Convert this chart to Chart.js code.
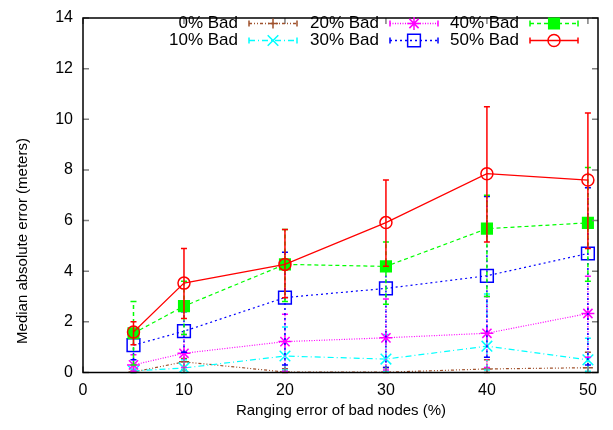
<!DOCTYPE html>
<html>
<head>
<meta charset="utf-8">
<script src="https://cdn.jsdelivr.net/npm/chart.js@4"></script>
<style>
    html, body { margin: 0; padding: 0; background: #fff; }
    #wrap { width: 613px; height: 430px; position: relative; }
</style>
</head>
<body>
<div id="wrap"><canvas id="errChart"></canvas></div>
<script>
// Ranging error of the bad nodes (%)
const xValues = [5, 10, 20, 30, 40, 50];
const xTicks = [0, 10, 20, 30, 40, 50];
const yTicks = [0, 2, 4, 6, 8, 10, 12, 14];
const seriesNames = ['0% Bad', '10% Bad', '20% Bad', '30% Bad', '40% Bad', '50% Bad'];

// Median absolute error (meters) for each share of bad nodes
const bad0 = [0.02, 0.42, 0.02, 0.01, 0.14, 0.19];
const bad10 = [0.06, 0.18, 0.65, 0.53, 1.04, 0.5];
const bad20 = [0.3, 0.76, 1.22, 1.37, 1.55, 2.33];
const bad30 = [1.08, 1.63, 2.96, 3.32, 3.82, 4.7];
const bad40 = [1.55, 2.62, 4.27, 4.19, 5.68, 5.91];
const bad50 = [1.6, 3.53, 4.27, 5.92, 7.85, 7.6];

// Error bar ends (low / high)
const bad0Low = [0, 0.1, 0, 0, 0, 0];
const bad0High = [0.1, 0.55, 0.15, 0.2, 0.5, 0.8];
const bad10Low = [0, 0, 0.1, 0.05, 0.1, 0.05];
const bad10High = [0.3, 0.5, 1.8, 1.5, 3.1, 1.35];
const bad20Low = [0.05, 0.2, 0.05, 0.1, 0.2, 0.6];
const bad20High = [0.7, 1.5, 2.3, 2.9, 3.0, 3.8];
const bad30Low = [0.5, 0.8, 0.3, 0.2, 0.6, 0.3];
const bad30High = [1.5, 2.4, 4.75, 4.1, 6.95, 7.3];
const bad40Low = [0.3, 1.5, 2.8, 2.7, 3.0, 3.6];
const bad40High = [2.8, 3.6, 5.65, 5.15, 7.0, 8.1];
const bad50Low = [1.1, 2.13, 2.95, 4.2, 5.15, 4.9];
const bad50High = [2.0, 4.9, 5.65, 7.6, 10.5, 10.25];

const medians = [bad0, bad10, bad20, bad30, bad40, bad50];
const lows = [bad0Low, bad10Low, bad20Low, bad30Low, bad40Low, bad50Low];
const highs = [bad0High, bad10High, bad20High, bad30High, bad40High, bad50High];

// gnuplot-like line styles
const colors = ['#a0522d', '#00ffff', '#ff00ff', '#0000ff', '#00ff00', '#ff0000'];
const dashes = [[3, 2, 1, 2, 1, 2], [6, 3, 1, 3], [1, 1.5], [2, 3], [4, 3], []];
const markers = ['cross', 'crossRot', 'star', 'rect', 'rect', 'circle'];
const radii = [5, 7.5, 6.5, 9, 7.5, 6];
const fills = ['#a0522d', '#00ffff', '#ff00ff', 'rgba(0,0,0,0)', '#00ff00', 'rgba(0,0,0,0)'];

const FONT = '"Liberation Sans", Arial, sans-serif';

const datasets = seriesNames.map((name, i) => ({
    label: name,
    data: xValues.map((x, j) => ({ x: x, y: medians[i][j] })),
    low: lows[i],
    high: highs[i],
    borderColor: colors[i],
    backgroundColor: fills[i],
    borderWidth: 1.2,
    borderDash: dashes[i],
    pointStyle: markers[i],
    pointRadius: radii[i],
    pointHoverRadius: radii[i],
    pointBorderColor: colors[i],
    pointBackgroundColor: fills[i],
    pointBorderWidth: 1.5,
    tension: 0,
    fill: false,
    order: 5 - i
}));

// Vertical error bars with small caps, under each series' markers
const errorBars = {
    id: 'errorBars',
    beforeDatasetDraw(chart, args) {
        const ds = chart.data.datasets[args.index];
        const { ctx } = chart;
        const x = chart.scales.x, y = chart.scales.y;
        ctx.save();
        ctx.strokeStyle = ds.borderColor;
        ctx.lineWidth = 1.5;
        ds.data.forEach((p, j) => {
            const px = x.getPixelForValue(p.x);
            const yl = y.getPixelForValue(ds.low[j]);
            const yh = y.getPixelForValue(ds.high[j]);
            ctx.setLineDash(ds.borderDash);
            ctx.beginPath();
            ctx.moveTo(px, yl);
            ctx.lineTo(px, yh);
            ctx.stroke();
            ctx.setLineDash([]);
            ctx.beginPath();
            ctx.moveTo(px - 3, yl); ctx.lineTo(px + 3, yl);
            ctx.moveTo(px - 3, yh); ctx.lineTo(px + 3, yh);
            ctx.stroke();
        });
        ctx.restore();
    }
};

// Box frame with inward ticks on all four sides
const frame = {
    id: 'frame',
    afterDatasetsDraw(chart) {
        const { ctx, chartArea: a } = chart;
        const x = chart.scales.x, y = chart.scales.y;
        ctx.save();
        ctx.strokeStyle = '#808080';
        ctx.lineWidth = 1.5;
        ctx.beginPath();
        xTicks.forEach(v => {
            const px = x.getPixelForValue(v);
            ctx.moveTo(px, a.bottom); ctx.lineTo(px, a.bottom - 6);
            ctx.moveTo(px, a.top); ctx.lineTo(px, a.top + 6);
        });
        yTicks.forEach(v => {
            const py = y.getPixelForValue(v);
            ctx.moveTo(a.left, py); ctx.lineTo(a.left + 6, py);
            ctx.moveTo(a.right, py); ctx.lineTo(a.right - 6, py);
        });
        ctx.stroke();
        ctx.strokeStyle = '#000';
        ctx.lineWidth = 1.5;
        ctx.strokeRect(a.left, a.top, a.right - a.left, a.bottom - a.top);
        ctx.restore();
    },
    afterDraw(chart) {
        const { ctx } = chart;
        ctx.save();
        ctx.fillStyle = '#000';
        ctx.font = '15px ' + FONT;
        ctx.textAlign = 'center';
        ctx.textBaseline = 'middle';
        ctx.fillText('Ranging error of bad nodes (%)', 341, 411);
        ctx.translate(23, 241);
        ctx.rotate(-Math.PI / 2);
        ctx.fillText('Median absolute error (meters)', 0, 0);
        ctx.restore();
    }
};

// Two-row key in the top of the plot, gnuplot style
const keyBox = {
    id: 'keyBox',
    afterDraw(chart) {
        const { ctx } = chart;
        const textRight = [238, 379, 519];
        const rowY = [23.5, 40.5];
        ctx.save();
        chart.data.datasets.forEach((ds, i) => {
            const col = Math.floor(i / 2), row = i % 2;
            const y = rowY[row];
            const x1 = textRight[col] + 11, x2 = x1 + 48;
            ctx.fillStyle = '#000';
            ctx.font = '17px ' + FONT;
            ctx.textAlign = 'right';
            ctx.textBaseline = 'middle';
            ctx.fillText(ds.label, textRight[col], y);

            ctx.strokeStyle = ds.borderColor;
            ctx.lineWidth = 1.5;
            ctx.setLineDash(ds.borderDash);
            ctx.beginPath();
            ctx.moveTo(x1, y); ctx.lineTo(x2, y);
            ctx.stroke();
            ctx.setLineDash([]);
            ctx.beginPath();
            ctx.moveTo(x1, y - 3); ctx.lineTo(x1, y + 3);
            ctx.moveTo(x2, y - 3); ctx.lineTo(x2, y + 3);
            ctx.stroke();

            ctx.fillStyle = ds.pointBackgroundColor;
            ctx.strokeStyle = ds.pointBorderColor;
            ctx.lineWidth = ds.pointBorderWidth;
            Chart.helpers.drawPoint(ctx, {
                pointStyle: ds.pointStyle,
                radius: ds.pointRadius,
                borderWidth: ds.pointBorderWidth,
                rotation: 0
            }, (x1 + x2) / 2, y);
        });
        ctx.restore();
    }
};

new Chart(document.getElementById('errChart').getContext('2d'), {
    type: 'line',
    data: { datasets: datasets },
    options: {
        responsive: true,
        maintainAspectRatio: false,
        animation: false,
        events: [],
        layout: { padding: { top: 9.5, right: 15, left: 0, bottom: 0 } },
        plugins: { legend: { display: false }, tooltip: { enabled: false } },
        scales: {
            x: {
                type: 'linear',
                min: 0,
                max: 51,
                afterBuildTicks: s => { s.ticks = xTicks.map(v => ({ value: v })); },
                afterFit: s => { s.height = 57.5; },
                grid: { display: false, drawTicks: false },
                border: { display: false },
                ticks: { padding: 8, color: '#000', font: { family: FONT, size: 16 }, maxRotation: 0 }
            },
            y: {
                min: 0,
                max: 14,
                afterBuildTicks: s => { s.ticks = yTicks.map(v => ({ value: v })); },
                afterFit: s => { s.width = 83; },
                grid: { display: false, drawTicks: false },
                border: { display: false },
                ticks: { padding: 10, color: '#000', font: { family: FONT, size: 16, lineHeight: 1 } }
            }
        }
    },
    plugins: [errorBars, frame, keyBox]
});
</script>
</body>
</html>
